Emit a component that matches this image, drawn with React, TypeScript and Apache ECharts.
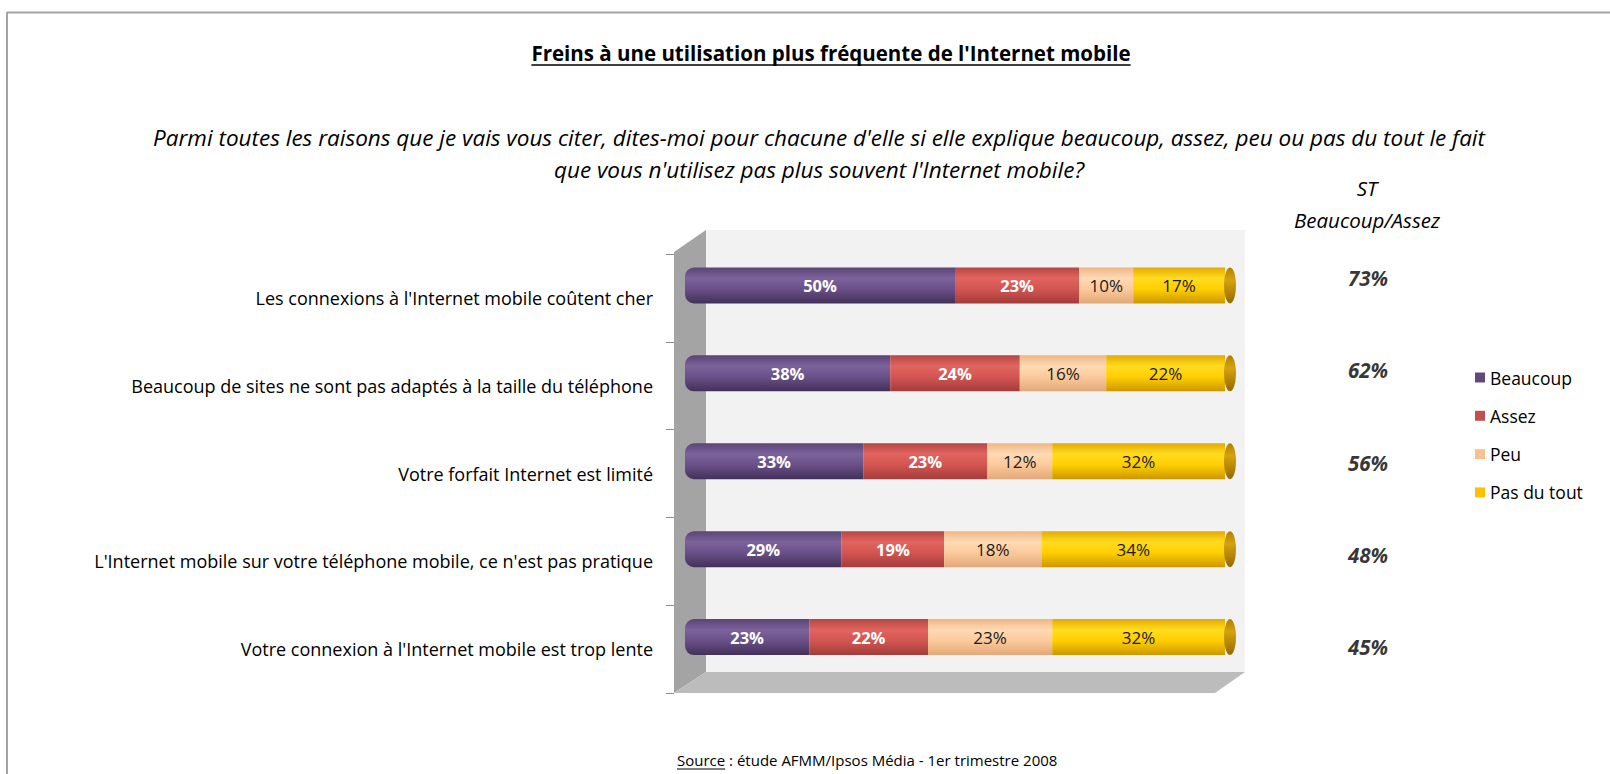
import React, { useEffect, useRef } from "react";
import * as echarts from "echarts";

const categories = [
  "Les connexions à l'Internet mobile coûtent cher",
  "Beaucoup de sites ne sont pas adaptés à la taille du téléphone",
  "Votre forfait Internet est limité",
  "L'Internet mobile sur votre téléphone mobile, ce n'est pas pratique",
  "Votre connexion à l'Internet mobile est trop lente",
];
const seriesNames = ["Beaucoup", "Assez", "Peu", "Pas du tout"];
const beaucoup = [50, 38, 33, 29, 23];
const assez = [23, 24, 23, 19, 22];
const peu = [10, 16, 12, 18, 23];
const pasDuTout = [17, 22, 32, 34, 32];
const stBeaucoupAssez = [73, 62, 56, 48, 45];

const titleText = "Freins à une utilisation plus fréquente de l'Internet mobile";
const subtitleLines = [
  "Parmi toutes les raisons que je vais vous citer, dites-moi pour chacune d'elle si elle explique beaucoup, assez, peu ou pas du tout le fait",
  "que vous n'utilisez pas plus souvent l'Internet mobile?",
];
const stHeader = ["ST", "Beaucoup/Assez"];
const sourceLabel = "Source";
const sourceRest = " : étude AFMM/Ipsos Média - 1er trimestre 2008";

const FONT = "'Open Sans', 'Noto Sans', sans-serif";

const legendColors = ["#604a7b", "#c0504d", "#fac090", "#ffc000"];
const barGradients = [
  ["#5a4475", "#7d629c", "#6a5088", "#433059"],
  ["#b44744", "#e2645f", "#d35551", "#a23d3a"],
  ["#efb584", "#ffdab4", "#fcca9c", "#e2a877"],
  ["#e3aa00", "#ffdc20", "#ffcf00", "#cc9700"],
];
const labelColors = ["#ffffff", "#ffffff", "#1a1a1a", "#1a1a1a"];

function grad(stops: string[]) {
  return {
    type: "linear",
    x: 0,
    y: 0,
    x2: 0,
    y2: 1,
    colorStops: [
      { offset: 0, color: stops[0] },
      { offset: 0.3, color: stops[1] },
      { offset: 0.6, color: stops[2] },
      { offset: 1, color: stops[3] },
    ],
  };
}

function measure(text: string, fontSize: number, fontWeight: string, fontStyle: string) {
  try {
    const t = new (echarts.graphic as any).Text({
      style: { text, fontSize, fontWeight, fontStyle, fontFamily: FONT },
    });
    return t.getBoundingRect().width;
  } catch (e) {
    return text.length * fontSize * 0.55;
  }
}

export default function App() {
  const ref = useRef<HTMLDivElement>(null);

  useEffect(() => {
    if (!ref.current) return;
    const chart = echarts.init(ref.current, null, { renderer: "svg" });

    const seriesData = [beaucoup, assez, peu, pasDuTout];
    const totals = categories.map(
      (_, i) => beaucoup[i] + assez[i] + peu[i] + pasDuTout[i]
    );

    const titleSize = 20.5;
    const titleW = measure(titleText, titleSize, "bold", "normal");
    const titleX = 831;
    const titleY = 53;

    const srcSize = 15;
    const srcX = 677;
    const srcY = 760;
    const srcLabelW = measure(sourceLabel, srcSize, "normal", "normal");

    const barSeries = seriesNames.map((name, s) => ({
      name,
      type: "bar",
      stack: "total",
      xAxisIndex: 0,
      yAxisIndex: 0,
      barWidth: 36,
      data: seriesData[s],
      itemStyle: {
        color: grad(barGradients[s]),
        borderRadius: s === 0 ? [9, 0, 0, 9] : 0,
      },
      label: {
        show: true,
        position: "inside",
        formatter: "{c}%",
        color: labelColors[s],
        fontSize: s < 2 ? 16.5 : 17,
        fontWeight: s < 2 ? "bold" : "normal",
        fontFamily: FONT,
      },
      emphasis: { disabled: true },
    }));

    const option: any = {
      animation: false,
      backgroundColor: "#ffffff",
      grid: [
        { left: 685, right: 385, top: 241.5, height: 439.5 },
        { left: 674, width: 571, top: 254, height: 439 },
        { left: 1330, width: 76, top: 232, height: 461.5 },
      ],
      xAxis: [
        { gridIndex: 0, type: "value", min: 0, max: 100, show: false },
        { gridIndex: 1, type: "value", min: 0, max: 1, show: false },
        { gridIndex: 2, type: "value", min: 0, max: 1, show: false },
      ],
      yAxis: [
        { gridIndex: 0, type: "category", data: categories, inverse: true, show: false },
        {
          gridIndex: 1,
          type: "category",
          data: categories,
          inverse: true,
          axisLine: { show: false },
          axisTick: { show: true, length: 8, lineStyle: { color: "#8c8c8c" } },
          axisLabel: { margin: 21, fontSize: 18, color: "#000", fontFamily: FONT },
          splitLine: { show: false },
        },
        { gridIndex: 2, type: "category", data: categories, inverse: true, show: false },
      ],
      legend: {
        orient: "vertical",
        left: 1470,
        top: 363,
        icon: "rect",
        itemWidth: 10,
        itemHeight: 10,
        itemGap: 19.3,
        textStyle: { fontSize: 17.5, lineHeight: 19, color: "#000", fontFamily: FONT },
        data: seriesNames.map((n, i) => ({ name: n, itemStyle: { color: legendColors[i] } })),
        selectedMode: false,
      },
      graphic: [
        // border
        { type: "line", z: 0, shape: { x1: 7, y1: 12.5, x2: 1610, y2: 12.5 }, style: { stroke: "#a3a3a3", lineWidth: 2 } },
        { type: "line", z: 0, shape: { x1: 7, y1: 12, x2: 7, y2: 774 }, style: { stroke: "#a3a3a3", lineWidth: 2 } },
        // 3D box
        { type: "rect", z: 0, shape: { x: 706, y: 230, width: 539, height: 442 }, style: { fill: "#f2f2f2" } },
        {
          type: "polygon",
          z: 0,
          shape: { points: [[674, 252], [706, 230], [706, 672], [674, 693]] },
          style: { fill: "#a4a4a4" },
        },
        {
          type: "polygon",
          z: 0,
          shape: { points: [[674, 693], [706, 672], [1245, 672], [1215, 693]] },
          style: { fill: "#bcbcbc" },
        },
        // title
        {
          type: "text",
          z: 5,
          x: titleX,
          y: titleY,
          style: {
            text: titleText,
            fontSize: titleSize,
            fontWeight: "bold",
            fontFamily: FONT,
            fill: "#000",
            align: "center",
            verticalAlign: "middle",
          },
        },
        {
          type: "line",
          z: 5,
          shape: { x1: titleX - titleW / 2, y1: titleY + 12, x2: titleX + titleW / 2, y2: titleY + 12 },
          style: { stroke: "#000", lineWidth: 1.3 },
        },
        // subtitle
        ...subtitleLines.map((t, i) => ({
          type: "text",
          z: 5,
          x: 819,
          y: 137 + i * 32.5,
          style: {
            text: t,
            fontSize: 22.5,
            fontStyle: "italic",
            fontFamily: FONT,
            fill: "#000",
            align: "center",
            verticalAlign: "middle",
          },
        })),
        // ST header
        ...stHeader.map((t, i) => ({
          type: "text",
          z: 5,
          x: 1367,
          y: 188 + i * 32,
          style: {
            text: t,
            fontSize: 20.5,
            fontStyle: "italic",
            fontFamily: FONT,
            fill: "#000",
            align: "center",
            verticalAlign: "middle",
          },
        })),
        // source
        {
          type: "text",
          z: 5,
          x: srcX,
          y: srcY,
          style: {
            text: sourceLabel + sourceRest,
            fontSize: srcSize,
            fontFamily: FONT,
            fill: "#000",
            align: "left",
            verticalAlign: "middle",
          },
        },
        {
          type: "line",
          z: 5,
          shape: { x1: srcX, y1: srcY + 9, x2: srcX + srcLabelW, y2: srcY + 9 },
          style: { stroke: "#000", lineWidth: 1 },
        },
      ],
      series: [
        ...barSeries,
        {
          name: "cap",
          type: "scatter",
          xAxisIndex: 0,
          yAxisIndex: 0,
          z: 3,
          silent: true,
          symbol: "circle",
          symbolSize: [12, 36],
          symbolOffset: [5, 0],
          data: totals.map((v, i) => [v, i]),
          itemStyle: {
            color: {
              type: "linear",
              x: 0,
              y: 0,
              x2: 0,
              y2: 1,
              colorStops: [
                { offset: 0, color: "#b08000" },
                { offset: 0.35, color: "#d6a20f" },
                { offset: 1, color: "#946a00" },
              ],
            },
            opacity: 1,
          },
        },
        {
          name: "st",
          type: "scatter",
          xAxisIndex: 2,
          yAxisIndex: 2,
          silent: true,
          symbolSize: 0,
          data: stBeaucoupAssez.map((v, i) => [0.5, i]),
          label: {
            show: true,
            position: "inside",
            formatter: (p: any) => stBeaucoupAssez[p.dataIndex] + "%",
            fontSize: 20.5,
            fontWeight: "bold",
            fontStyle: "italic",
            color: "#000",
            fontFamily: FONT,
          },
        },
      ],
    };

    chart.setOption(option);
    return () => chart.dispose();
  }, []);

  return (
    <div
      ref={ref}
      style={{ position: "absolute", left: 0, top: 0, width: 1610, height: 774 }}
    />
  );
}
